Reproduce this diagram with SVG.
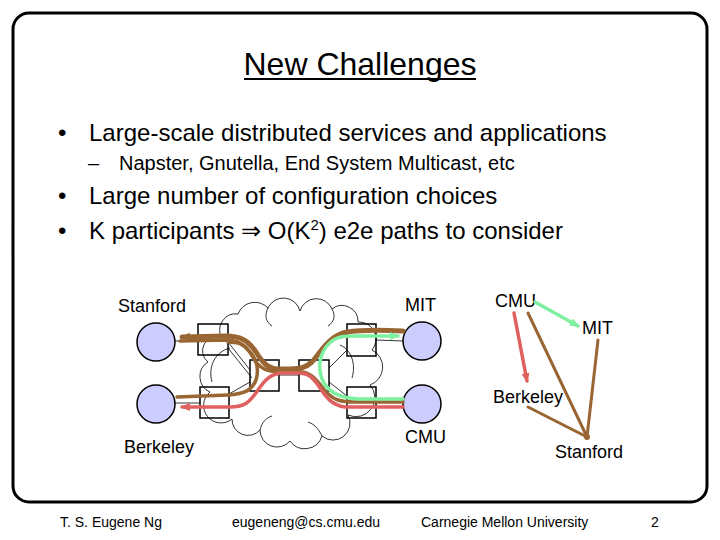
<svg xmlns="http://www.w3.org/2000/svg" width="720" height="540" viewBox="0 0 720 540">
<defs>
<style>
text{font-family:"Liberation Sans",Arial,sans-serif;fill:#000}
.frame{fill:#fff;stroke:#000;stroke-width:3}
.host{fill:#ccccff;stroke:#000;stroke-width:1.5}
.rtr{fill:none;stroke:#000;stroke-width:1.5}
.thin{fill:none;stroke:#000;stroke-width:0.8}
.cloud{fill:none;stroke:#000;stroke-width:0.8}
.brown{fill:none;stroke:#996633;stroke-linecap:round;stroke-linejoin:round}
.red{fill:none;stroke:#e06060;stroke-width:3.5;stroke-linecap:round}
.green{fill:none;stroke:#7ff0a0;stroke-width:3.5;stroke-linecap:round}
.lbl{font-size:18px}
.ft{font-size:14px}
</style>
<marker id="ab" viewBox="0 0 10 10" refX="8" refY="5" markerUnits="userSpaceOnUse" markerWidth="10" markerHeight="10" orient="auto"><path d="M0,1 L10,5 L0,9 Z" fill="#996633"/></marker>
<marker id="ar" viewBox="0 0 10 10" refX="8" refY="5" markerUnits="userSpaceOnUse" markerWidth="10" markerHeight="10" orient="auto"><path d="M0,1 L10,5 L0,9 Z" fill="#e06060"/></marker>
<marker id="ag" viewBox="0 0 10 10" refX="8" refY="5" markerUnits="userSpaceOnUse" markerWidth="10" markerHeight="10" orient="auto"><path d="M0,1 L10,5 L0,9 Z" fill="#7ff0a0"/></marker>
</defs>
<rect x="0" y="0" width="720" height="540" fill="#fff"/>
<rect class="frame" x="13" y="13" width="694" height="489" rx="16" ry="16"/>

<g id="title">
<text x="360" y="75" font-size="32" text-anchor="middle">New Challenges</text>
<line x1="244" y1="79" x2="476" y2="79" stroke="#000" stroke-width="2"/>
</g>

<g id="bullets">
<text x="58" y="141" font-size="24">•</text>
<text x="89" y="141" font-size="24">Large-scale distributed services and applications</text>
<text x="88" y="170" font-size="20">–</text>
<text x="119" y="170" font-size="20">Napster, Gnutella, End System Multicast, etc</text>
<text x="58" y="204" font-size="24">•</text>
<text x="89" y="204" font-size="24">Large number of configuration choices</text>
<text x="58" y="239" font-size="24">•</text>
<text x="89" y="239" font-size="24">K participants ⇒ O(K<tspan font-size="15" dy="-9">2</tspan><tspan dy="9">) e2e paths to consider</tspan></text>
</g>

<g id="cloud">
<path class="cloud" d="M222,338 A16,16 0 0 1 238,314 A18,18 0 0 1 268,308 A17,17 0 0 1 300,311 A17,17 0 0 1 332,309 A16,16 0 0 1 358,322 A17,17 0 0 1 372,350 A19,19 0 0 1 370,385 A19,19 0 0 1 348,415 A17,17 0 0 1 322,436 A18,18 0 0 1 290,441 A17,17 0 0 1 260,430 A16,16 0 0 1 232,419 A16,16 0 0 1 210,392 A17,17 0 0 1 208,362 A14,14 0 0 1 222,338 Z"/>
<path class="cloud" d="M230,348 C214,352 208,368 212,382"/>
<path class="cloud" d="M268,308 C264,316 266,322 272,326"/>
<path class="cloud" d="M332,309 C336,316 334,322 328,326"/>
<path class="cloud" d="M340,345 C352,350 356,365 352,378"/>
<path class="cloud" d="M260,430 C262,422 266,418 272,416"/>
<path class="cloud" d="M322,436 C318,428 314,424 308,422"/>
</g>

<g id="links">
<line class="thin" x1="175" y1="341" x2="198" y2="341"/>
<line class="thin" x1="175" y1="403" x2="200" y2="403"/>
<line class="thin" x1="376" y1="340" x2="403" y2="341"/>
<line class="thin" x1="376" y1="402" x2="403" y2="402"/>
<line class="thin" x1="228" y1="342" x2="250" y2="370"/>
<line class="thin" x1="228" y1="348" x2="252" y2="378"/>
<line class="thin" x1="229" y1="394" x2="250" y2="382"/>
<line class="thin" x1="279" y1="375" x2="299" y2="375"/>
<line class="thin" x1="347" y1="350" x2="329" y2="368"/>
<line class="thin" x1="347" y1="396" x2="329" y2="382"/>
</g>

<g id="stanford-l"><circle class="host" cx="156" cy="342" r="19"/><text class="lbl" x="118" y="312">Stanford</text></g>
<g id="berkeley-l"><circle class="host" cx="156" cy="404" r="19"/><text class="lbl" x="124" y="453">Berkeley</text></g>
<g id="mit-l"><circle class="host" cx="422" cy="341" r="19"/><text class="lbl" x="405" y="311">MIT</text></g>
<g id="cmu-l"><circle class="host" cx="422" cy="404" r="19"/><text class="lbl" x="405" y="443">CMU</text></g>
<g id="r-stanford"><rect class="rtr" x="198" y="324" width="30" height="31"/></g>
<g id="r-berkeley"><rect class="rtr" x="200" y="387" width="29" height="31"/></g>
<g id="r-mit"><rect class="rtr" x="347" y="324" width="29" height="32"/></g>
<g id="r-cmu"><rect class="rtr" x="347" y="387" width="29" height="31"/></g>
<g id="r-midl"><rect class="rtr" x="250" y="360" width="29" height="31"/></g>
<g id="r-midr"><rect class="rtr" x="299" y="360" width="30" height="31"/></g>

<g id="paths">
<path class="brown" stroke-width="5" marker-end="url(#ab)" d="M403,331 C380,330 360,330 347,332 C330,335 322,350 312,362 C305,368 300,369 290,369 L278,369 C268,369 262,362 256,352 C248,340 240,336 225,336 L182,337"/>
<path class="brown" stroke-width="3.5" d="M180,341 L228,340 C245,341 250,352 256,362 C262,370 270,372 285,372 L300,372 C312,372 318,382 326,392 C334,400 340,402 355,402 L403,402"/>
<path class="brown" stroke-width="3.5" d="M177,397 L228,395 C245,394 252,390 256,380 C259,370 257,360 250,352 C244,344 238,342 228,342"/>
<path class="red" marker-end="url(#ar)" d="M403,407 L345,407 C330,405 325,395 318,385 C312,377 308,373 298,373 L282,373 C270,374 265,380 258,390 C250,402 245,407 230,407 L182,407"/>
<path class="green" marker-end="url(#ag)" d="M403,399 L358,399 C340,398 330,393 324,383 C318,372 318,358 326,347 C333,338 340,336 352,336 L398,336"/>
</g>

<g id="cmu-r"><text class="lbl" x="495" y="307">CMU</text></g>
<g id="mit-r"><text class="lbl" x="582" y="334">MIT</text></g>
<g id="berkeley-r"><text class="lbl" x="493" y="403">Berkeley</text></g>
<g id="stanford-r"><text class="lbl" x="555" y="458">Stanford</text></g>
<g id="overlay-edges">
<line class="green" stroke-width="3" x1="535" y1="302" x2="578" y2="326" marker-end="url(#ag)"/>
<line class="red" stroke-width="3" x1="514" y1="313" x2="527" y2="381" marker-end="url(#ar)"/>
<line class="brown" stroke-width="3" x1="528" y1="313" x2="587" y2="437"/>
<line class="brown" stroke-width="3" x1="598" y1="340" x2="587" y2="437"/>
<line class="brown" stroke-width="3" x1="528" y1="407" x2="587" y2="437"/>
<circle cx="587" cy="437" r="3" fill="#996633"/>
</g>

<g id="footer">
<text class="ft" x="60" y="527">T. S. Eugene Ng</text>
<text class="ft" x="232" y="527">eugeneng@cs.cmu.edu</text>
<text class="ft" x="421" y="527">Carnegie Mellon University</text>
<text class="ft" x="651" y="527">2</text>
</g>
</svg>
